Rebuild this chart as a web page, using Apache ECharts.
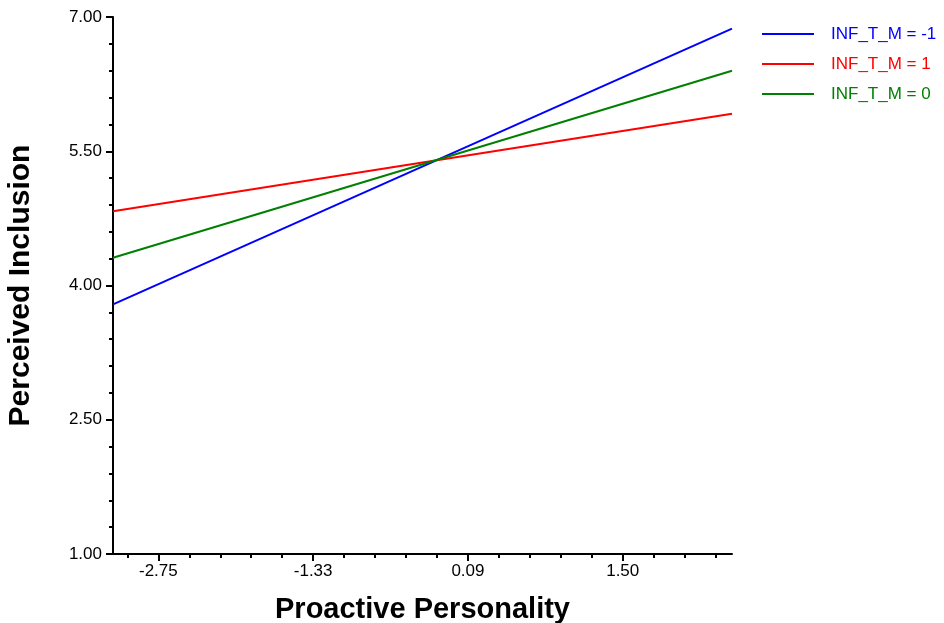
<!DOCTYPE html>
<html><head><meta charset="utf-8">
<script src="https://cdn.jsdelivr.net/npm/echarts@6/dist/echarts.min.js"></script>
<style>html,body{margin:0;padding:0;background:#fff}#c{width:944px;height:623px}</style>
</head><body><div id="c"></div>
<script>
var seriesNames = ['INF_T_M = -1', 'INF_T_M = 1', 'INF_T_M = 0'];
var seriesColors = ['#0000ff', '#ff0000', '#008000'];
var xEnds = [-3.165, 2.50];
var blueVals = [3.79, 6.87];
var redVals = [4.83, 5.92];
var greenVals = [4.31, 6.40];
var xTickValues = [-2.75, -1.3333, 0.0833, 1.50];
var xTickLabels = ['-2.75', '-1.33', '0.09', '1.50'];
var yMin = 1, yMax = 7, yStep = 1.5;

var step = (xTickValues[1] - xTickValues[0]) / 5;
var minorX = [];
for (var v = xTickValues[0] - 5 * step; v <= xEnds[1] + 1e-6; v += step) {
  if (v >= xEnds[0] - 1e-6) {
    var isMajor = xTickValues.some(function (t) { return Math.abs(t - v) < 1e-3; });
    if (!isMajor) minorX.push(+v.toFixed(4));
  }
}
function pairs(vals) { return [[xEnds[0], vals[0]], [xEnds[1], vals[1]]]; }
var valsList = [blueVals, redVals, greenVals];
var font = 'Liberation Sans, Arial, sans-serif';

var chart = echarts.init(document.getElementById('c'));
chart.setOption({
  animation: false,
  backgroundColor: '#fff',
  grid: { left: 113, right: 212, top: 17, bottom: 69, containLabel: false, outerBoundsMode: 'none' },
  legend: {
    left: 757, top: 19, orient: 'vertical',
    icon: 'path://M0,0 L52,0 L52,2 L0,2 Z',
    itemWidth: 52, itemHeight: 2, itemGap: 10,
    textStyle: { fontFamily: font, fontSize: 17, padding: [0, 0, 0, 12], lineHeight: 20 },
    data: seriesNames.map(function (n, i) { return { name: n, textStyle: { color: seriesColors[i] } }; })
  },
  xAxis: [{
    type: 'value', min: xEnds[0], max: xEnds[1],
    axisLine: { onZero: false, lineStyle: { color: '#000', width: 2 } },
    splitLine: { show: false },
    axisTick: { customValues: xTickValues, length: 7, lineStyle: { color: '#000', width: 2 } },
    axisLabel: {
      customValues: xTickValues, margin: 9, color: '#000', fontFamily: font, fontSize: 17,
      formatter: function (v) {
        var best = 0;
        for (var i = 1; i < xTickValues.length; i++) if (Math.abs(xTickValues[i] - v) < Math.abs(xTickValues[best] - v)) best = i;
        return xTickLabels[best];
      }
    },
    name: 'Proactive Personality', nameLocation: 'middle', nameGap: 41,
    nameTextStyle: { fontFamily: font, fontSize: 29, fontWeight: 'bold', color: '#000' }
  }, {
    type: 'value', min: xEnds[0], max: xEnds[1], position: 'bottom',
    axisLine: { show: false, onZero: false }, splitLine: { show: false },
    axisTick: { customValues: minorX, length: 4, lineStyle: { color: '#000', width: 2 } },
    axisLabel: { show: false }
  }],
  yAxis: {
    type: 'value', min: yMin, max: yMax, interval: yStep,
    axisLine: { show: true, onZero: false, lineStyle: { color: '#000', width: 2 } },
    splitLine: { show: false },
    axisTick: { show: true, length: 7, lineStyle: { color: '#000', width: 2 } },
    minorTick: { show: true, splitNumber: 5, length: 4, lineStyle: { color: '#000', width: 2 } },
    axisLabel: { margin: 11, color: '#000', fontFamily: font, fontSize: 17, formatter: function (v) { return v.toFixed(2); } },
    name: 'Perceived Inclusion', nameLocation: 'middle', nameGap: 77,
    nameTextStyle: { fontFamily: font, fontSize: 30, fontWeight: 'bold', color: '#000' }
  },
  series: seriesNames.map(function (n, i) {
    return {
      name: n, type: 'line', xAxisIndex: 0, data: pairs(valsList[i]),
      symbol: 'none', color: seriesColors[i],
      lineStyle: { color: seriesColors[i], width: 2 }
    };
  })
});
</script></body></html>
